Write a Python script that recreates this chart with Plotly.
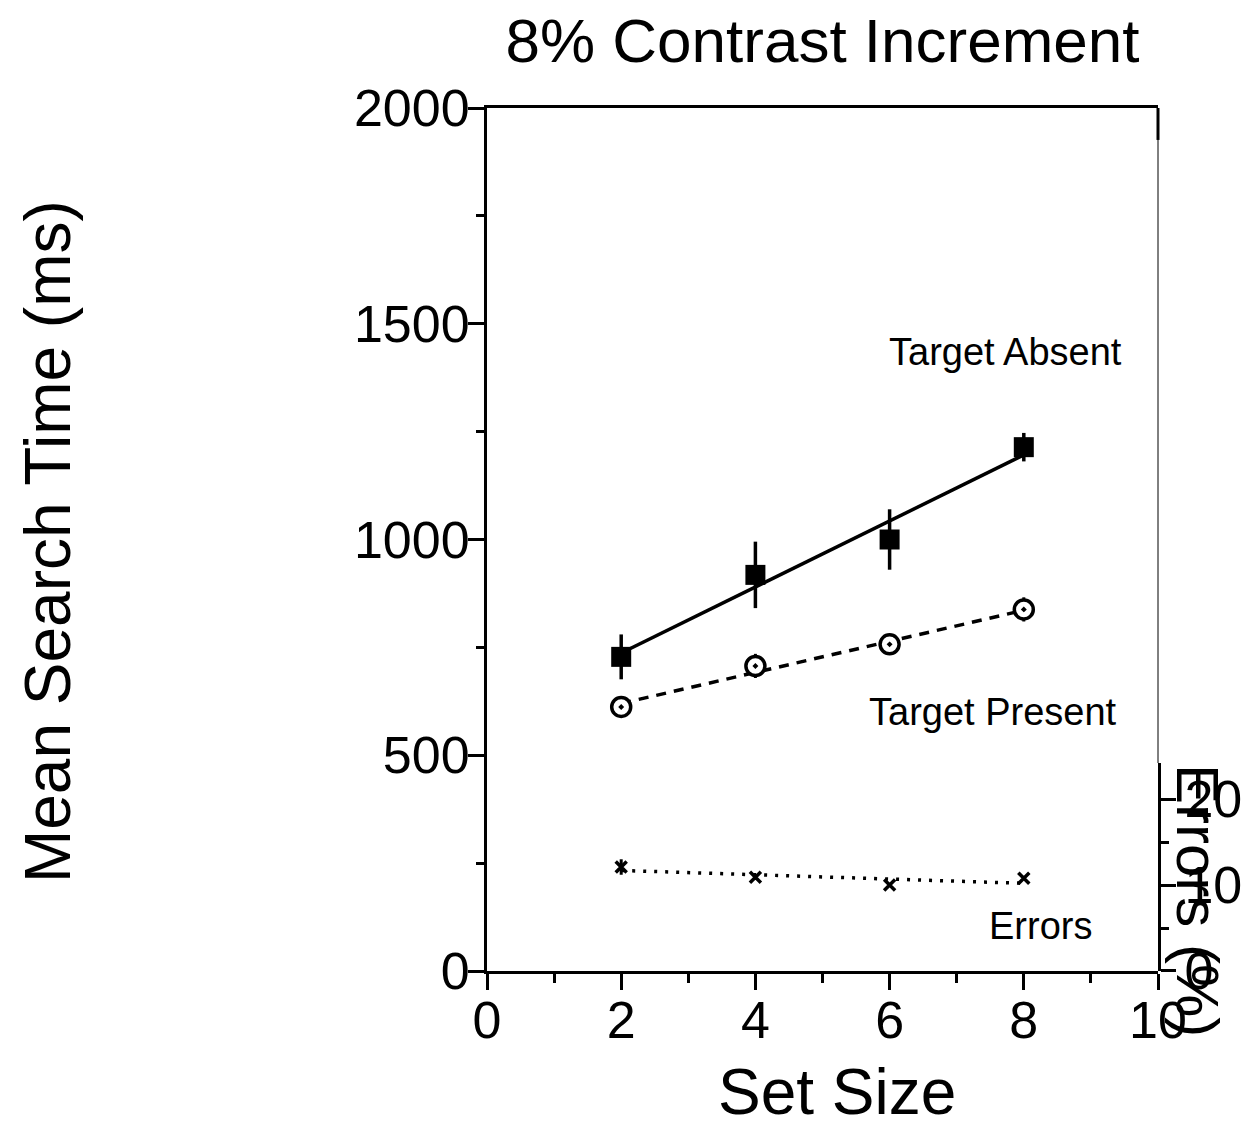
import plotly.graph_objects as go

# ---------------- data ----------------
set_size = [2, 4, 6, 8]
absent_rt = [728, 918, 1000, 1214]
absent_err = [52, 77, 70, 33]
present_rt = [612, 707, 757, 838]
present_err = [20, 28, 20, 28]
errors_pct = [12.1, 10.9, 10.0, 10.8]
errors_err = [0.9, 0.3, 0.0, 0.0]

fit_x = [2, 8]
absent_fit = [737, 1196]
present_fit = [620, 836]
errors_fit = [11.7, 10.2]

x_ticks = [0, 2, 4, 6, 8, 10]
y_ticks = [0, 500, 1000, 1500, 2000]
y2_ticks = [0, 10, 20]

FONT = "Arial, Liberation Sans, Helvetica, sans-serif"
BLACK = "#000000"

fig = go.Figure()

# fit lines
fig.add_trace(go.Scatter(x=fit_x, y=absent_fit, mode="lines",
                         line=dict(color=BLACK, width=3.5), showlegend=False))
fig.add_trace(go.Scatter(x=fit_x, y=present_fit, mode="lines",
                         line=dict(color=BLACK, width=3.5, dash="10px,8px"), showlegend=False))
fig.add_trace(go.Scatter(x=fit_x, y=errors_fit, mode="lines", yaxis="y2",
                         line=dict(color=BLACK, width=3.5, dash="3px,8px"), showlegend=False))

# data points
fig.add_trace(go.Scatter(x=set_size, y=absent_rt, mode="markers",
                         marker=dict(symbol="square", size=20, color=BLACK),
                         error_y=dict(type="data", array=absent_err, color=BLACK,
                                      thickness=3.5, width=0),
                         showlegend=False))
fig.add_trace(go.Scatter(x=set_size, y=present_rt, mode="markers",
                         marker=dict(symbol="circle-dot", size=19, color="white",
                                     line=dict(width=3.5, color=BLACK)),
                         error_y=dict(type="data", array=present_err, color=BLACK,
                                      thickness=3, width=0),
                         showlegend=False))
fig.add_trace(go.Scatter(x=set_size, y=errors_pct, mode="markers", yaxis="y2",
                         marker=dict(symbol="x-thin", size=11, color=BLACK,
                                     line=dict(width=3.5, color=BLACK)),
                         error_y=dict(type="data", array=errors_err, color=BLACK,
                                      thickness=3, width=0),
                         showlegend=False))

axis_common = dict(showgrid=False, zeroline=False, showline=True, linecolor=BLACK,
                   linewidth=3, ticks="outside", tickcolor=BLACK, tickwidth=3,
                   tickfont=dict(family=FONT, size=52, color=BLACK))

fig.update_layout(
    width=1246, height=1133,
    margin=dict(l=487, r=88, t=108, b=162, autoexpand=False),
    paper_bgcolor="white", plot_bgcolor="white",
    font=dict(family=FONT, color=BLACK),
    title=dict(text="8% Contrast Increment", x=0.5, xref="paper", xanchor="center",
               y=1 - 40 / 1133, yref="container", yanchor="middle",
               font=dict(family=FONT, size=62, color=BLACK)),
    xaxis=dict(range=[0, 10], tickvals=x_ticks, ticklen=16, mirror=True,
               ticklabelstandoff=-14,
               minor=dict(dtick=1, ticklen=9, tickwidth=3, tickcolor=BLACK, ticks="outside"),
               **axis_common),
    yaxis=dict(range=[0, 2000], tickvals=y_ticks, ticklen=16, domain=[0, 1],
               ticklabelstandoff=-12,
               minor=dict(dtick=250, ticklen=8, tickwidth=3, tickcolor=BLACK, ticks="outside"),
               **axis_common),
    yaxis2=dict(range=[0, 24.2], tickvals=y2_ticks, ticklen=15, side="right",
                anchor="x", domain=[0, 0.241], ticklabelstandoff=-2,
                minor=dict(dtick=5, ticklen=8, tickwidth=3, tickcolor=BLACK, ticks="outside"),
                **axis_common),
)

# right frame: thin line above the error axis, short thick stub at the top
fig.add_shape(type="line", xref="paper", yref="paper", x0=1, x1=1, y0=0.241, y1=1,
              line=dict(color=BLACK, width=1))
fig.add_shape(type="line", xref="paper", yref="paper", x0=1, x1=1, y0=0.963, y1=1,
              line=dict(color=BLACK, width=3))

ann_font = dict(family=FONT, size=38, color=BLACK)
fig.add_annotation(x=5.96, y=1434, xref="x", yref="y", text="Target Absent",
                   showarrow=False, xanchor="left", yanchor="middle", font=ann_font)
fig.add_annotation(x=5.66, y=600, xref="x", yref="y", text="Target Present",
                   showarrow=False, xanchor="left", yanchor="middle", font=ann_font)
fig.add_annotation(x=7.45, y=104, xref="x", yref="y", text="Errors",
                   showarrow=False, xanchor="left", yanchor="middle", font=ann_font)

title_font = dict(family=FONT, size=64, color=BLACK)
fig.add_annotation(x=(837 - 487) / 671, y=(971 - 1092) / 863, xref="paper", yref="paper",
                   text="Set Size", showarrow=False, xanchor="center", yanchor="middle",
                   font=title_font)
fig.add_annotation(x=(48 - 487) / 671, y=0.497, xref="paper", yref="paper",
                   text="Mean Search Time (ms)", showarrow=False, textangle=-90,
                   xanchor="center", yanchor="middle", font=title_font)
fig.add_annotation(x=(1198 - 487) / 671, y=(971 - 900) / 863, xref="paper", yref="paper",
                   text="Errors (%)", showarrow=False, textangle=90,
                   xanchor="center", yanchor="middle", font=dict(family=FONT, size=60, color=BLACK))

fig.write_html("out.html")
